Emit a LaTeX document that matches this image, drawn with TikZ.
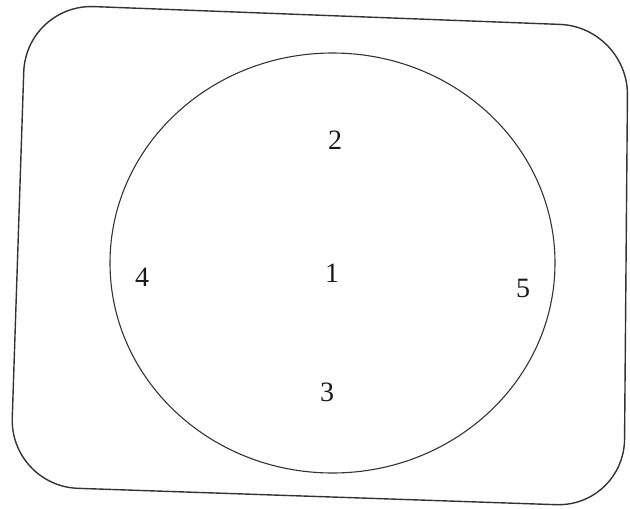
\documentclass[tikz,border=0pt]{standalone}
\usepackage{fontspec}
\setmainfont{Liberation Serif}
\usetikzlibrary{shapes.geometric}
\begin{document}
\begin{tikzpicture}[x=1pt,y=-1pt,
  lbl/.style={font=\fontsize{28}{32}\selectfont, inner sep=0pt, text=black!90},
  edge/.style={draw=black!80, line width=1.4pt}]
\useasboundingbox (0,0) rectangle (630,509);
\draw[edge, rounded corners=68pt] (26,4) -- (628,27) -- (624,507) -- (10,486) -- cycle;
\node[draw=black!80, line width=1.1pt, ellipse, minimum width=445pt, minimum height=420pt, inner sep=0pt] (c) at (332.5,263) {};
\node[lbl] (n2) at (335,140) {2};
\node[lbl] (n1) at (332,273) {1};
\node[lbl] (n4) at (142,277) {4};
\node[lbl] (n5) at (523,288) {5};
\node[lbl] (n3) at (327,392) {3};
\end{tikzpicture}
\end{document}
